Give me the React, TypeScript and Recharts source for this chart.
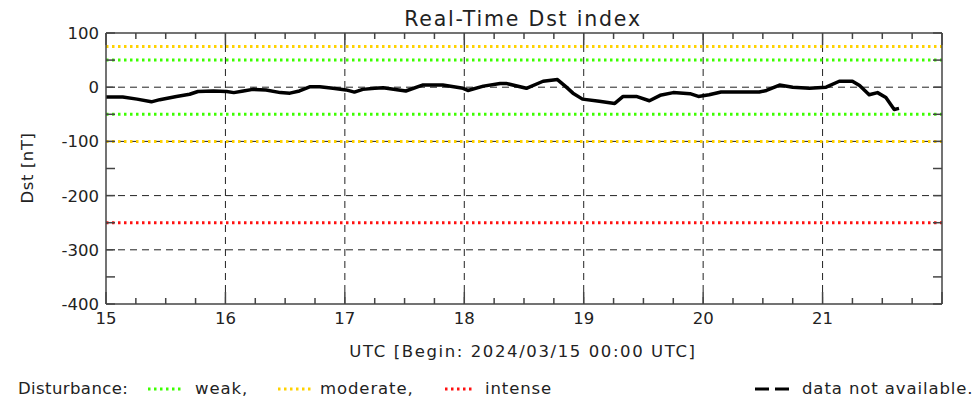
import React from 'react';
import { LineChart, Line, XAxis, YAxis, ReferenceLine } from 'recharts';

// ---- data ----
const days = [
  15.0, 15.14, 15.26, 15.38, 15.45, 15.59, 15.7, 15.77, 15.9, 16.01, 16.07, 16.15, 16.23, 16.34,
  16.46, 16.54, 16.62, 16.71, 16.79, 16.9, 17.01, 17.08, 17.15, 17.25, 17.32, 17.51, 17.65, 17.82,
  17.99, 18.03, 18.16, 18.3, 18.35, 18.52, 18.66, 18.78, 18.85, 18.91, 18.99, 19.13, 19.26, 19.33,
  19.44, 19.55, 19.64, 19.75, 19.89, 19.96, 20.05, 20.15, 20.28, 20.47, 20.53, 20.64, 20.75, 20.89,
  21.03, 21.14, 21.25, 21.31, 21.39, 21.46, 21.53, 21.6, 21.64,
];
const dstValues = [
  -18, -18, -22, -27, -23, -17, -13, -8, -7, -8, -10, -7, -4, -5,
  -10, -11, -7, 1, 1, -2, -5, -9, -4, -2, -1, -7, 4, 4,
  -2, -6, 2, 7, 7, -2, 11, 14, 1, -11, -22, -26, -30, -17,
  -17, -25, -15, -10, -12, -17, -14, -9, -9, -9, -6, 4, 0, -2,
  0, 11, 11, 3, -14, -10, -19, -41, -39,
];
const majorDays = [15, 16, 17, 18, 19, 20, 21, 22];
const xTicks = [
  15, 15.25, 15.5, 15.75, 16, 16.25, 16.5, 16.75, 17, 17.25, 17.5, 17.75, 18, 18.25, 18.5, 18.75,
  19, 19.25, 19.5, 19.75, 20, 20.25, 20.5, 20.75, 21, 21.25, 21.5, 21.75, 22,
];
const xLabels = [15, 16, 17, 18, 19, 20, 21];
const yTicks = [100, 50, 0, -50, -100, -150, -200, -250, -300, -350, -400];
const yLabels = [100, 0, -100, -200, -300, -400];
const gridDays = [16, 17, 18, 19, 20, 21];
const gridLevels = [0, -100, -200, -300];
const thresholds = [
  { level: 75, color: '#ffd200' },
  { level: 50, color: '#3cff00' },
  { level: -50, color: '#3cff00' },
  { level: -100, color: '#ffd200' },
  { level: -250, color: '#ff1010' },
];

const rows = days.map((d, i) => ({ day: d, dst: dstValues[i] }));

const FONT = '"DejaVu Sans", sans-serif';
const TXT = '#222';
const AXIS = '#444';

const BottomTick = (props: any) => {
  const { x, y, payload } = props;
  const v = payload.value;
  const major = majorDays.includes(v);
  return (
    <g>
      <line x1={x} x2={x} y1={y} y2={y - (major ? 12 : 6)} stroke={AXIS} strokeWidth={1.5} />
      {xLabels.includes(v) && (
        <text x={x} y={y + 20} textAnchor="middle" fontFamily={FONT} fontSize={16.5} fill={TXT}>
          {v}
        </text>
      )}
    </g>
  );
};

const TopTick = (props: any) => {
  const { x, y, payload } = props;
  const major = majorDays.includes(payload.value);
  return <line x1={x} x2={x} y1={y} y2={y + (major ? 12 : 6)} stroke={AXIS} strokeWidth={1.5} />;
};

const LeftTick = (props: any) => {
  const { x, y, payload } = props;
  const v = payload.value;
  return (
    <g>
      <line x1={x} x2={x + 9} y1={y} y2={y} stroke={AXIS} strokeWidth={1.5} />
      {yLabels.includes(v) && (
        <text x={x - 7} y={y + 6} textAnchor="end" fontFamily={FONT} fontSize={16.5} fill={TXT}>
          {v}
        </text>
      )}
    </g>
  );
};

const RightTick = (props: any) => {
  const { x, y } = props;
  return <line x1={x} x2={x - 9} y1={y} y2={y} stroke={AXIS} strokeWidth={1.5} />;
};

const Sample = ({ color, dash, width }: { color: string; dash: string; width: number }) => (
  <svg width={width} height={8} style={{ position: 'absolute', top: 5 }}>
    <line x1={0} x2={width} y1={4} y2={4} stroke={color} strokeWidth={3} strokeDasharray={dash} />
  </svg>
);

const abs = (left: number, top: number, extra: React.CSSProperties = {}): React.CSSProperties => ({
  position: 'absolute',
  left,
  top,
  fontFamily: FONT,
  fontSize: 16.5,
  color: TXT,
  whiteSpace: 'nowrap',
  lineHeight: '18px',
  letterSpacing: 0.9,
  ...extra,
});

export default function App() {
  return (
    <div style={{ position: 'absolute', left: 0, top: 0, width: 979, height: 400, background: '#fff' }}>
      <LineChart width={979} height={400} data={rows} margin={{ top: 28, right: 32, bottom: 66, left: 46 }}>
        <XAxis
          xAxisId="b"
          dataKey="day"
          type="number"
          domain={[15, 22]}
          ticks={xTicks}
          interval={0}
          height={30}
          tickSize={0}
          tickMargin={0}
          tickLine={false}
          axisLine={{ stroke: AXIS, strokeWidth: 1.5 }}
          tick={<BottomTick />}
          allowDataOverflow
        />
        <XAxis
          xAxisId="t"
          orientation="top"
          dataKey="day"
          type="number"
          domain={[15, 22]}
          ticks={xTicks}
          interval={0}
          height={5}
          tickSize={0}
          tickMargin={0}
          tickLine={false}
          axisLine={{ stroke: AXIS, strokeWidth: 1.5 }}
          tick={<TopTick />}
          allowDataOverflow
        />
        <YAxis
          yAxisId="l"
          type="number"
          domain={[-400, 100]}
          ticks={yTicks}
          interval={0}
          width={60}
          tickSize={0}
          tickMargin={0}
          tickLine={false}
          axisLine={{ stroke: AXIS, strokeWidth: 1.5 }}
          tick={<LeftTick />}
          allowDataOverflow
        />
        <YAxis
          yAxisId="r"
          orientation="right"
          type="number"
          domain={[-400, 100]}
          ticks={yTicks}
          interval={0}
          width={5}
          tickSize={0}
          tickMargin={0}
          tickLine={false}
          axisLine={{ stroke: AXIS, strokeWidth: 1.5 }}
          tick={<RightTick />}
          allowDataOverflow
        />
        {gridDays.map((d) => (
          <ReferenceLine key={'gx' + d} xAxisId="b" yAxisId="l" x={d} stroke="#222" strokeWidth={1} strokeDasharray="7 5" />
        ))}
        {gridLevels.map((l) => (
          <ReferenceLine key={'gy' + l} xAxisId="b" yAxisId="l" y={l} stroke="#222" strokeWidth={1} strokeDasharray="7 5" />
        ))}
        {thresholds.map((t) => (
          <ReferenceLine
            key={'t' + t.level}
            xAxisId="b"
            yAxisId="l"
            y={t.level}
            stroke={t.color}
            strokeWidth={3}
            strokeDasharray="2.5 3.5"
          />
        ))}
        <Line
          xAxisId="b"
          yAxisId="l"
          dataKey="dst"
          type="linear"
          stroke="#000"
          strokeWidth={3.5}
          strokeLinejoin="round"
          dot={false}
          isAnimationActive={false}
        />
      </LineChart>

      <div style={abs(523, 7, { fontSize: 20.5, lineHeight: '24px', letterSpacing: 1.8, transform: 'translateX(-50%)' })}>
        Real-Time Dst index
      </div>
      <div
        style={abs(28, 168, {
          letterSpacing: 0.6,
          transform: 'translate(-50%, -50%) rotate(-90deg)',
        })}
      >
        Dst [nT]
      </div>
      <div style={abs(523, 343, { letterSpacing: 1.6, transform: 'translateX(-50%)' })}>
        UTC [Begin: 2024/03/15 00:00 UTC]
      </div>

      <div style={abs(18, 380, { letterSpacing: 0.4 })}>Disturbance:</div>
      <div style={{ position: 'absolute', left: 148, top: 380 }}>
        <Sample color="#3cff00" dash="2.5 3.5" width={34} />
      </div>
      <div style={abs(195, 380)}>weak,</div>
      <div style={{ position: 'absolute', left: 278, top: 380 }}>
        <Sample color="#ffd200" dash="2.5 3.5" width={35} />
      </div>
      <div style={abs(320, 380)}>moderate,</div>
      <div style={{ position: 'absolute', left: 445, top: 380 }}>
        <Sample color="#ff1010" dash="2.5 3.5" width={28} />
      </div>
      <div style={abs(485, 380)}>intense</div>
      <div style={{ position: 'absolute', left: 755, top: 380 }}>
        <Sample color="#000" dash="14 6" width={40} />
      </div>
      <div style={abs(802, 380)}>data not available.</div>
    </div>
  );
}
